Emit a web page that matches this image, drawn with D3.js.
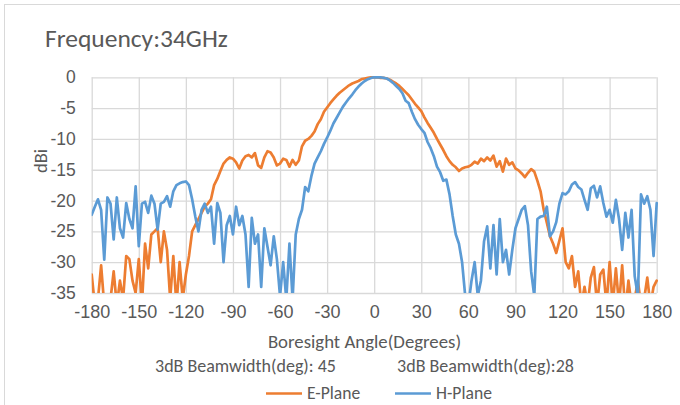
<!DOCTYPE html>
<html><head><meta charset="utf-8">
<script src="https://cdn.jsdelivr.net/npm/d3@7"></script>
<style>
html,body{margin:0;padding:0;background:#fff;}
svg{display:block;font-family:Carlito,Lato,"Open Sans",sans-serif;}
</style></head>
<body>
<svg id="c" width="680" height="405"></svg>
<script>
const angles = [-180,-178,-176,-174,-172,-170,-168,-166,-164,-162,-160,-158,-156,-154,-152,-150,-148,-146,-144,-142,-140,-138,-136,-134,-132,-130,-128,-126,-124,-122,-120,-118,-116,-114,-112,-110,-108,-106,-104,-102,-100,-98,-96,-94,-92,-90,-88,-86,-84,-82,-80,-78,-76,-74,-72,-70,-68,-66,-64,-62,-60,-58,-56,-54,-52,-50,-48,-46,-44,-42,-40,-38,-36,-34,-32,-30,-28,-26,-24,-22,-20,-18,-16,-14,-12,-10,-8,-6,-4,-2,0,2,4,6,8,10,12,14,16,18,20,22,24,26,28,30,32,34,36,38,40,42,44,46,48,50,52,54,56,58,60,62,64,66,68,70,72,74,76,78,80,82,84,86,88,90,92,94,96,98,100,102,104,106,108,110,112,114,116,118,120,122,124,126,128,130,132,134,136,138,140,142,144,146,148,150,152,154,156,158,160,162,164,166,168,170,172,174,176,178,180];

const ePlane = [-32,-37,-36,-30.5,-37,-38,-36,-31.5,-37,-33,-36,-29,-29.5,-33,-35,-29.5,-37,-27,-31,-25.5,-25,-24.5,-30,-25,-28,-36,-29,-37,-30,-36,-32,
-29,-25,-24,-23,-22,-21,-20.5,-19.8,-17.5,-16.5,-15.2,-14,-13.4,-13,-13.2,-13.8,-14.8,-13.5,-12.8,-12.6,-13,-12.3,-14.3,-14.7,-13,-12,-12.2,-13,-14.3,-14,
-13.2,-13.4,-14.5,-13.4,-14.2,-13.5,-11.2,-10.3,-10,-9.5,-8.8,-7.6,-6.8,-5.6,-4.9,-4.2,-3.6,-3.0,-2.5,-2.1,-1.7,-1.3,-1.0,-0.8,-0.6,-0.3,-0.2,-0.1,0,0,
0,-0.1,-0.1,-0.2,-0.4,-0.7,-1.0,-1.4,-1.9,-2.4,-2.9,-3.6,-4.3,-4.9,-5.5,-6.5,-7.4,-8.2,-9.0,-10.0,-10.9,-11.8,-12.8,-13.6,-14.2,-14.6,-15.2,-14.8,-14.6,-14.5,
-14.2,-13.7,-14.0,-13.2,-13.6,-13.0,-13.5,-12.7,-14.5,-13.6,-15.3,-13.2,-14.2,-13.8,-14.8,-15.1,-15.6,-16.2,-15.5,-14.9,-15.3,-16.8,-18.5,-21.5,-23.6,-25.8,-27,-28.5,-26.5,-24.5,
-30,-31,-29,-34,-31.5,-37,-34,-37,-32.5,-30.8,-37,-32,-31.2,-37,-30,-37,-31,-37,-30.5,-38,-33,-37,-36,-33,-37,-36,-32.5,-37,-34,-33];

const hPlane = [-22.3,-21,-19.8,-21.5,-29.6,-19.5,-20.5,-26.3,-19.5,-24.5,-26,-20.4,-23,-24.5,-17.7,-27.4,-20.5,-20.2,-22,-19.2,-20.5,-24.7,-20.5,-20.2,-19.3,-21,-18.5,-17.5,-17.2,-17,-16.9,
-17.5,-19.8,-22.6,-25,-21.5,-20.5,-22,-21,-27,-20.4,-22,-30,-24,-22.5,-25.5,-21,-24,-22.5,-25.5,-34,-22.8,-27,-25.5,-34,-24.5,-27.5,-30.5,-25.8,-29.5,-35.5,
-30,-36,-27,-36,-25.5,-23,-21.5,-17.8,-18.5,-16,-14,-13,-12,-10.8,-9.8,-8.7,-7.5,-6.6,-5.7,-4.8,-4.1,-3.4,-2.8,-2.1,-1.5,-1.0,-0.6,-0.3,-0.1,0,
0,0,-0.1,-0.2,-0.5,-0.9,-1.4,-1.9,-2.6,-3.8,-4.2,-5.6,-6.8,-7.7,-8.4,-9.0,-10.5,-11.5,-12.8,-14.5,-15.4,-16.8,-16.6,-19,-22.5,-25.5,-27,-30,-35.5,-37,
-33,-30,-35.5,-33,-26.6,-24.2,-31,-24,-32,-23,-30,-28,-32,-28,-24.5,-23,-21.5,-20.9,-24,-31.5,-35.5,-23,-22.6,-22.5,-21,-25.8,-25,-23.5,-20.5,-18.8,
-19,-18.5,-17.4,-17,-17.8,-18.2,-19.9,-21.5,-18,-17.6,-19.5,-17.7,-20.4,-22.6,-21.5,-23.6,-19.9,-23,-28,-22,-26,-21.5,-32.3,-35.5,-19,-20.5,-19.3,-21.5,-29,-20.4];

const xTicks = [-180,-150,-120,-90,-60,-30,0,30,60,90,120,150,180];
const yTicks = [0,-5,-10,-15,-20,-25,-30,-35];
const seriesNames = ["E-Plane","H-Plane"];
const seriesColors = ["#ED7D31","#5B9BD5"];
const titleText = "Frequency:34GHz";
const xTitle = "Boresight Angle(Degrees)";
const yTitle = "dBi";
const notes = ["3dB Beamwidth(deg): 45","3dB Beamwidth(deg):28"];

const svg = d3.select("#c");
const W = 680, H = 405;
const plot = {left:91.7, right:656.7, top:77.3, bottom:293};
const textColor = "#595959", gridColor = "#d9d9d9";

svg.append("rect").attr("x",4.5).attr("y",4.5).attr("width",W+10).attr("height",H+10)
  .attr("fill","none").attr("stroke","#d9d9d9").attr("stroke-width",1);

const x = d3.scaleLinear().domain([-180,180]).range([plot.left, plot.right]);
const y = d3.scaleLinear().domain([-35,0]).range([plot.bottom, plot.top]);

const gx = svg.append("g").attr("transform",`translate(0,${plot.bottom})`)
  .call(d3.axisBottom(x).tickValues(xTicks).tickSize(-(plot.bottom-plot.top)).tickFormat(d=>d).tickPadding(19));
gx.select(".domain").remove();
gx.selectAll(".tick line").attr("stroke",gridColor).attr("stroke-width",1.3);
gx.selectAll(".tick text").attr("fill",textColor).style("font-size","18px").attr("dy","0.32em");

const gy = svg.append("g").attr("transform",`translate(${plot.left},0)`)
  .call(d3.axisLeft(y).tickValues(yTicks).tickSize(-(plot.right-plot.left)).tickFormat(d=>d).tickPadding(16));
gy.select(".domain").remove();
gy.selectAll(".tick line").attr("stroke",gridColor).attr("stroke-width",1.3);
gy.selectAll(".tick text").attr("fill",textColor).style("font-size","17.5px");

svg.append("clipPath").attr("id","clip").append("rect")
  .attr("x",plot.left).attr("y",plot.top-3).attr("width",plot.right-plot.left+2).attr("height",plot.bottom-plot.top+3);

const line = d3.line().x((d,i)=>x(angles[i])).y(d=>y(d));
const series = [ePlane, hPlane];
svg.append("g").attr("clip-path","url(#clip)").selectAll("path").data(series).join("path")
  .attr("d",d=>line(d)).attr("fill","none")
  .attr("stroke",(d,i)=>seriesColors[i]).attr("stroke-width",2.7)
  .attr("stroke-linejoin","round").attr("stroke-linecap","round");

svg.append("text").attr("x",45).attr("y",47).attr("fill",textColor)
  .style("font-size","25.5px").text(titleText);
svg.append("text").attr("transform",`translate(47,161) rotate(-90)`).attr("text-anchor","middle")
  .attr("fill",textColor).style("font-size","18.5px").text(yTitle);
svg.append("text").attr("x",364.5).attr("y",348).attr("text-anchor","middle")
  .attr("fill",textColor).style("font-size","18.8px").text(xTitle);
svg.append("text").attr("x",245.5).attr("y",372).attr("text-anchor","middle")
  .attr("fill",textColor).style("font-size","18px").text(notes[0]);
svg.append("text").attr("x",485.5).attr("y",372).attr("text-anchor","middle")
  .attr("fill",textColor).style("font-size","18px").text(notes[1]);

const legX = [266, 395];
seriesNames.forEach((n,i)=>{
  const g = svg.append("g").attr("transform",`translate(${legX[i]},393.5)`);
  g.append("line").attr("x1",0).attr("x2",36).attr("stroke",seriesColors[i]).attr("stroke-width",2.7);
  g.append("text").attr("x",41).attr("dy","0.33em").attr("fill",textColor).style("font-size","17.6px").text(n);
});
</script>
</body></html>
